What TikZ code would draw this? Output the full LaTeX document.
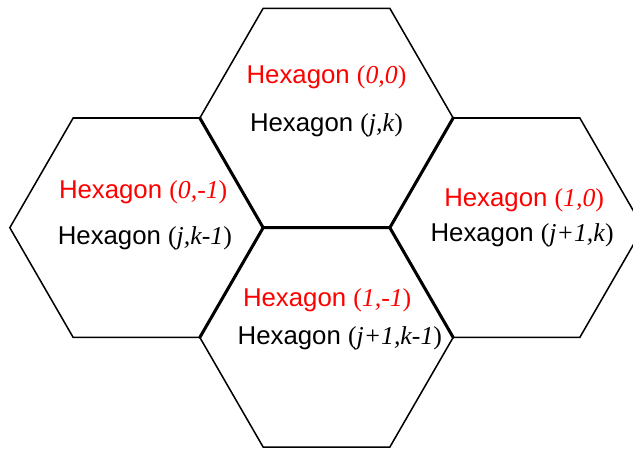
\documentclass[tikz,border=0pt]{standalone}
\usepackage{fontspec}
\setmainfont{Liberation Sans}
\newfontfamily\coordfont{Liberation Serif}
\usetikzlibrary{positioning}
\tikzstyle{hexname}=[text=red,inner sep=1pt,font=\fontsize{22}{26}\selectfont]
\tikzstyle{hexidx}=[text=black,inner sep=1pt,font=\fontsize{22}{26}\selectfont]
\newcommand{\hexpos}[1]{{\coordfont(\textit{#1})}}

\begin{document}
\begin{tikzpicture}[cell/.style={line width=1.3pt,line join=miter},shared/.style={line width=2.6pt,line cap=round}]
\useasboundingbox (-9.795,3.54) rectangle (9.195,-9.96);
\clip (-9.795,3.54) rectangle (9.195,-9.96);
\foreach \cx/\cy in {0/0,-5.7/-3.291,5.7/-3.291,0/-6.582}
  \draw[cell] (\cx,\cy) +(0:3.8) -- +(60:3.8) -- +(120:3.8) -- +(180:3.8) -- +(240:3.8) -- +(300:3.8) -- cycle;
\coordinate (ml) at (-1.9,-3.291);
\coordinate (mr) at (1.9,-3.291);
\coordinate (tl) at (-3.8,0);
\coordinate (tr) at (3.8,0);
\coordinate (bl) at (-3.8,-6.582);
\coordinate (br) at (3.8,-6.582);
\draw[shared] (tl) -- (ml) -- (mr) -- (tr);
\draw[shared] (ml) -- (bl);
\draw[shared] (mr) -- (br);
\node[hexname] (top) at (0,1.23) {Hexagon \hexpos{0,0}};
\node[hexidx] (topjk) at (0,-0.21) {Hexagon \hexpos{j,k}};
\node[hexname] (left) at (-5.5,-2.22) {Hexagon \hexpos{0,-1}};
\node[hexidx] (leftjk) at (-5.45,-3.6) {Hexagon \hexpos{j,k-1}};
\node[hexname] (right) at (5.93,-2.46) {Hexagon \hexpos{1,0}};
\node[hexidx] (rightjk) at (5.87,-3.51) {Hexagon \hexpos{j+1,k}};
\node[hexname] (bottom) at (0.02,-5.46) {Hexagon \hexpos{1,-1}};
\node[hexidx] (bottomjk) at (0.4,-6.6) {Hexagon \hexpos{j+1,k-1}};
\end{tikzpicture}
\end{document}
